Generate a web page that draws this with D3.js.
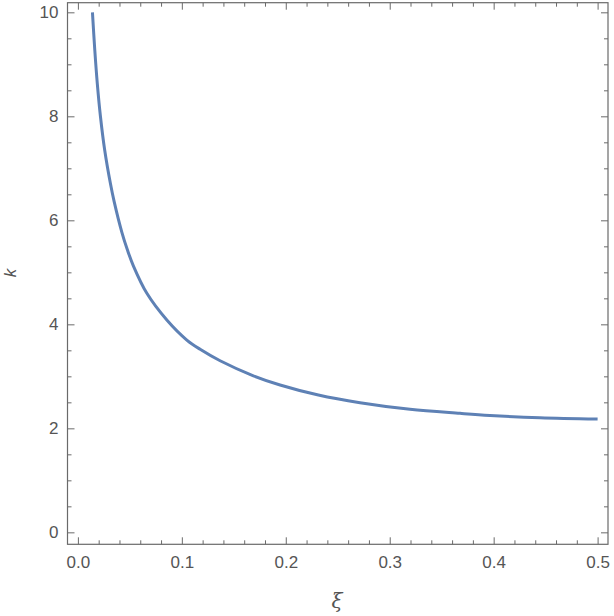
<!DOCTYPE html>
<html>
<head>
<meta charset="utf-8">
<script src="https://cdn.jsdelivr.net/npm/d3@7"></script>
<style>
  html, body { margin: 0; padding: 0; background: #fff; }
  svg { display: block; }
</style>
</head>
<body>
<svg id="chart" width="614" height="616"></svg>
<script>
// Data (xi, k)
const xiValues = [0.0140, 0.01625, 0.01865, 0.02173, 0.02577, 0.03125, 0.03490, 0.04231, 0.04769, 0.05346, 0.06635, 0.08558, 0.10481, 0.11760, 0.13683, 0.16885, 0.19452, 0.23135, 0.27144, 0.31952, 0.36760, 0.39644, 0.44452, 0.5000];
const kValues  = [10.00, 9.275, 8.635, 7.992, 7.352, 6.712, 6.360, 5.770, 5.429, 5.120, 4.596, 4.083, 3.698, 3.520, 3.300, 3.010, 2.833, 2.640, 2.492, 2.365, 2.288, 2.248, 2.204, 2.179];

const xMajorTicks = [0, 0.1, 0.2, 0.3, 0.4, 0.5];
const xTickLabels = ["0.0", "0.1", "0.2", "0.3", "0.4", "0.5"];
const xMinorTicks = [0.02, 0.04, 0.06, 0.08, 0.12, 0.14, 0.16, 0.18, 0.22, 0.24, 0.26, 0.28, 0.32, 0.34, 0.36, 0.38, 0.42, 0.44, 0.46, 0.48];
const yMajorTicks = [0, 2, 4, 6, 8, 10];
const yTickLabels = ["0", "2", "4", "6", "8", "10"];
const yMinorTicks = [0.5, 1, 1.5, 2.5, 3, 3.5, 4.5, 5, 5.5, 6.5, 7, 7.5, 8.5, 9, 9.5];
const xLabel = "ξ";
const yLabel = "k";

const frame = { left: 67.5, right: 608, top: 2.7, bottom: 544.3 };
const axisColor = "#6a6a6a";
const textColor = "#555555";
const lineColor = "#5e81b5";

const svg = d3.select("#chart");
const x = d3.scaleLinear().domain([-0.01, 0.51]).range([frame.left, frame.right]);
const y = d3.scaleLinear().domain([-0.23, 10.185]).range([frame.bottom, frame.top]);

const fontFamily = "'Liberation Sans', Arial, Helvetica, sans-serif";

function styleAxis(g) {
  g.select(".domain").remove();
  g.selectAll(".tick line").attr("stroke", axisColor).attr("stroke-width", 1);
  g.selectAll(".tick text").attr("fill", textColor).attr("font-size", 17).attr("font-family", fontFamily);
}

// Bottom axis
svg.append("g").attr("transform", `translate(0,${frame.bottom})`)
  .call(d3.axisBottom(x).tickValues(xMajorTicks).tickSize(-7).tickPadding(12)
        .tickFormat((d, i) => xTickLabels[i]))
  .call(styleAxis);
svg.append("g").attr("transform", `translate(0,${frame.bottom})`)
  .call(d3.axisBottom(x).tickValues(xMinorTicks).tickSize(-4).tickFormat(""))
  .call(styleAxis);
// Top axis (mirrored, no labels)
svg.append("g").attr("transform", `translate(0,${frame.top})`)
  .call(d3.axisTop(x).tickValues(xMajorTicks).tickSize(-7).tickFormat(""))
  .call(styleAxis);
svg.append("g").attr("transform", `translate(0,${frame.top})`)
  .call(d3.axisTop(x).tickValues(xMinorTicks).tickSize(-4).tickFormat(""))
  .call(styleAxis);
// Left axis
svg.append("g").attr("transform", `translate(${frame.left},0)`)
  .call(d3.axisLeft(y).tickValues(yMajorTicks).tickSize(-7).tickPadding(9)
        .tickFormat((d, i) => yTickLabels[i]))
  .call(styleAxis);
svg.append("g").attr("transform", `translate(${frame.left},0)`)
  .call(d3.axisLeft(y).tickValues(yMinorTicks).tickSize(-4).tickFormat(""))
  .call(styleAxis);
// Right axis
svg.append("g").attr("transform", `translate(${frame.right},0)`)
  .call(d3.axisRight(y).tickValues(yMajorTicks).tickSize(-7).tickFormat(""))
  .call(styleAxis);
svg.append("g").attr("transform", `translate(${frame.right},0)`)
  .call(d3.axisRight(y).tickValues(yMinorTicks).tickSize(-4).tickFormat(""))
  .call(styleAxis);

// Frame
svg.append("rect")
  .attr("x", frame.left).attr("y", frame.top)
  .attr("width", frame.right - frame.left).attr("height", frame.bottom - frame.top)
  .attr("fill", "none").attr("stroke", axisColor).attr("stroke-width", 1.2);

// Curve
const pts = xiValues.map((v, i) => [v, kValues[i]]);
const line = d3.line().x(d => x(d[0])).y(d => y(d[1])).curve(d3.curveCatmullRom.alpha(0.5));
svg.append("path").datum(pts)
  .attr("d", line)
  .attr("fill", "none").attr("stroke", lineColor).attr("stroke-width", 3)
  .attr("stroke-linejoin", "round");

// Axis labels
svg.append("text")
  .attr("x", 337).attr("y", 608)
  .attr("text-anchor", "middle")
  .attr("font-family", "'DejaVu Serif', 'Liberation Serif', serif")
  .attr("font-style", "italic").attr("font-size", 20)
  .attr("fill", textColor)
  .text(xLabel);
svg.append("text")
  .attr("transform", "translate(16,273) rotate(-90)")
  .attr("text-anchor", "middle")
  .attr("font-family", fontFamily)
  .attr("font-style", "italic").attr("font-size", 17)
  .attr("fill", textColor)
  .text(yLabel);
</script>
</body>
</html>
